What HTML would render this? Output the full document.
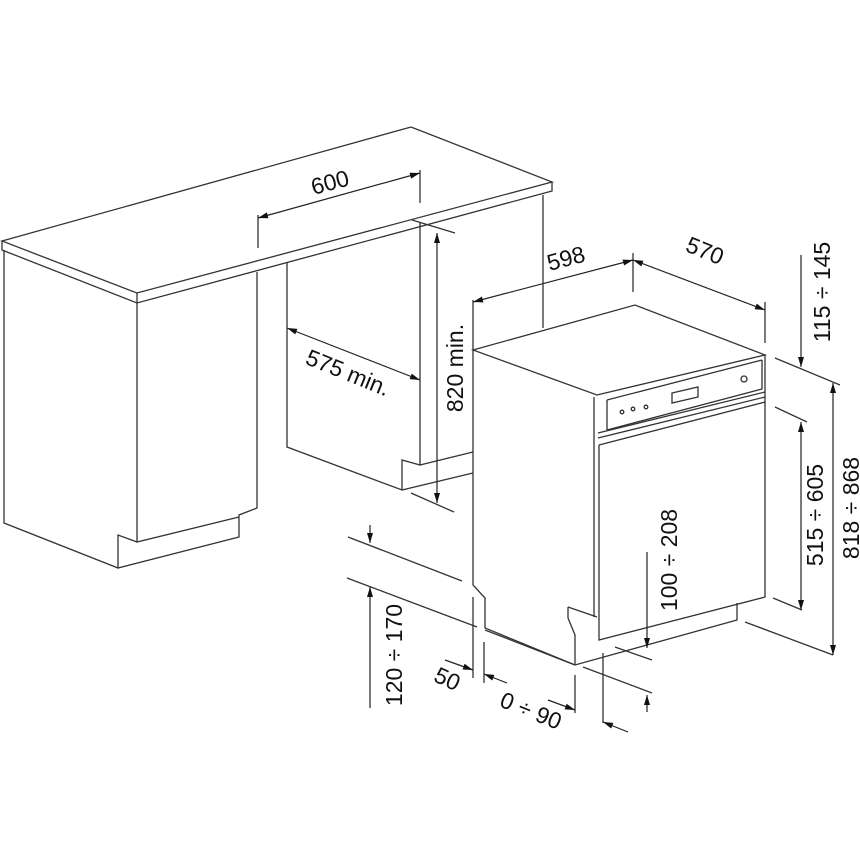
<!DOCTYPE html>
<html><head><meta charset="utf-8"><style>
html,body{margin:0;padding:0;background:#fff}
svg{display:block}
text{font-family:"Liberation Sans",Arial,sans-serif;font-size:23px;fill:#111}
</style></head><body>
<svg width="860" height="860" viewBox="0 0 860 860" xmlns="http://www.w3.org/2000/svg">
<defs>
<marker id="a" viewBox="0 0 10 6" refX="10" refY="3" markerWidth="14" markerHeight="6" markerUnits="userSpaceOnUse" orient="auto-start-reverse"><path d="M0,0L10,3L0,6z" fill="#111"/></marker>
</defs>
<g fill="none" stroke="#333" stroke-width="1.3">
<path d="M2,241 L411,127 L552,182 L137,293 Z"/>
<path d="M2,241 L2,250 L137,303 L552,191 L552,182 M137,293 L137,303"/>
<path d="M4,250 L4,523 L118,568 M137,303 L137,542 L239,517 M257,272 L257,508 L239,515 L239,537 L118,568 L118,535 L137,542"/>
<path d="M287,262 L287,447 L402,490 L402,460 L420,465 L420,223 M420,465 L473,452 M402,490 L473,473"/>
<path d="M412,220 L455,233 M411,493 L454,512"/>
<path d="M543,195 L543,328"/>
<path d="M473,350 L635,305 L765,355 L597,395 Z"/>
<path d="M473,300 L473,585 L485,598 L485,628 L575,665 L737,620 L737,603"/>
<path d="M594,397 L594,617 M599,445 L599,640 L765,597 L765,355"/>
<path d="M568,607 L597,617 M568,607 L568,618 L575,635 L575,665"/>
<path d="M607,400 L762,360 M607,400 L607,430 L762,389 L762,360"/>
<path d="M598,433 L765,392 M598,438 L765,397 M599,445 L765,402"/>
<path d="M672,393 L698,387 L698,397 L672,403 Z"/>
<circle cx="622" cy="412" r="1.8"/><circle cx="633" cy="409" r="1.8"/><circle cx="646" cy="407" r="1.8"/>
<circle cx="744" cy="379" r="3"/>
<path d="M258,215 L258,248 M420,170 L420,203"/>
<path d="M633,253 L633,292 M765,302 L765,343"/>
<path d="M775,358 L840,385 M775,407 L807,422 M773,598 L802,610 M745,622 L833,655"/>
<path d="M615,647 L652,660 M583,667 L652,693"/>
<path d="M603,653 L603,723 M575,675 L575,713"/>
<path d="M473,597 L473,678 M484,642 L484,683"/>
<path d="M348,537 L462,581 M347,578 L477,627 M485,630 L575,665"/>
</g>
<g fill="none" stroke="#222" stroke-width="1.2">
<line x1="258" y1="218" x2="420" y2="173" marker-start="url(#a)" marker-end="url(#a)"/>
<line x1="287" y1="328" x2="420" y2="380" marker-start="url(#a)" marker-end="url(#a)"/>
<line x1="437" y1="233" x2="437" y2="503" marker-start="url(#a)" marker-end="url(#a)"/>
<line x1="473" y1="302" x2="633" y2="260" marker-start="url(#a)" marker-end="url(#a)"/>
<line x1="633" y1="260" x2="765" y2="310" marker-start="url(#a)" marker-end="url(#a)"/>
<line x1="801" y1="255" x2="801" y2="367" marker-end="url(#a)"/>
<line x1="801" y1="422" x2="801" y2="610" marker-start="url(#a)" marker-end="url(#a)"/>
<line x1="833" y1="383" x2="833" y2="655" marker-start="url(#a)" marker-end="url(#a)"/>
<line x1="647" y1="552" x2="647" y2="648" marker-end="url(#a)"/>
<line x1="647" y1="712" x2="647" y2="695" marker-end="url(#a)"/>
<line x1="370" y1="525" x2="370" y2="543" marker-end="url(#a)"/>
<line x1="370" y1="708" x2="370" y2="587" marker-end="url(#a)"/>
<line x1="445" y1="660" x2="473" y2="670" marker-end="url(#a)"/>
<line x1="507" y1="683" x2="484" y2="674" marker-end="url(#a)"/>
<line x1="548" y1="700" x2="575" y2="710" marker-end="url(#a)"/>
<line x1="628" y1="732" x2="603" y2="722" marker-end="url(#a)"/>
</g>
<text transform="translate(332,190) rotate(-15)" text-anchor="middle">600</text>
<text transform="translate(345,380) rotate(22)" text-anchor="middle">575 min.</text>
<text transform="translate(463,368) rotate(-90)" text-anchor="middle">820 min.</text>
<text transform="translate(568,266) rotate(-15)" text-anchor="middle">598</text>
<text transform="translate(702,258) rotate(22)" text-anchor="middle">570</text>
<text transform="translate(830,292) rotate(-90)" text-anchor="middle">115 ÷ 145</text>
<text transform="translate(823,515) rotate(-90)" text-anchor="middle">515 ÷ 605</text>
<text transform="translate(859,508) rotate(-90)" text-anchor="middle">818 ÷ 868</text>
<text transform="translate(677,560) rotate(-90)" text-anchor="middle">100 ÷ 208</text>
<text transform="translate(402,655) rotate(-90)" text-anchor="middle">120 ÷ 170</text>
<text transform="translate(444,686) rotate(25)" text-anchor="middle">50</text>
<text transform="translate(528,718) rotate(22)" text-anchor="middle">0 ÷ 90</text>
</svg>
</body></html>
